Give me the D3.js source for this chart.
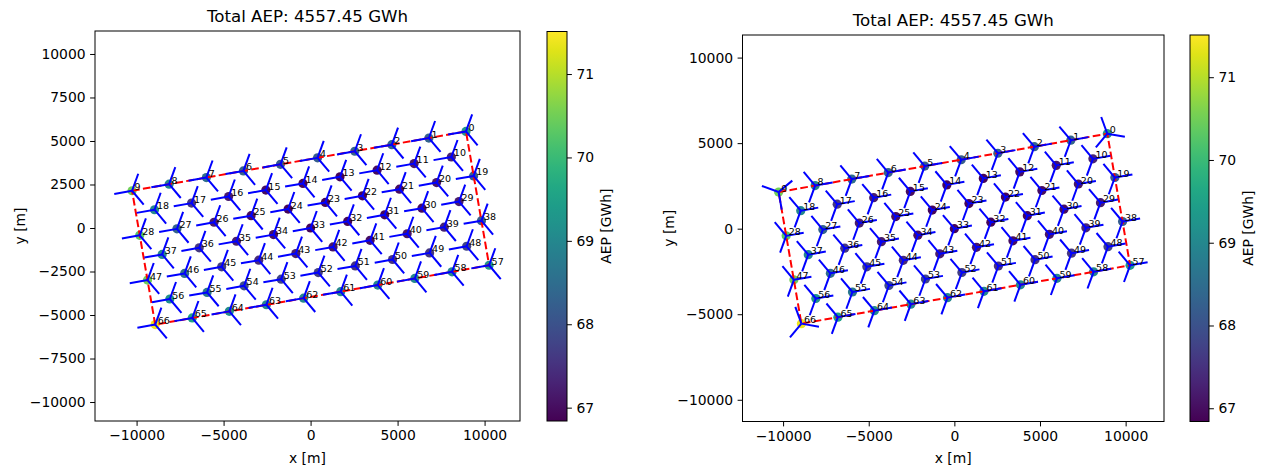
<!DOCTYPE html>
<html>
<head>
<meta charset="utf-8">
<script src="https://cdn.jsdelivr.net/npm/d3@7/dist/d3.min.js"></script>
<style>
  body { margin: 0; background: #fff; }
  text { font-family: "DejaVu Sans", sans-serif; fill: #000; }
</style>
</head>
<body>
<svg id="fig" width="1261" height="468"></svg>
<script>
// Turbine positions [m] and annual energy production [GWh]
const turbineX = [
  8930, 6800, 4670, 2540, 400, -1730, -3860, -5990, -8130, -10260,
  8090, 5950, 3820, 1690, -440, -2570, -4710, -6840, -8970,
  9370, 7240, 5110, 2980, 850, -1290, -3420, -5550, -7680, -9820,
  8530, 6400, 4260, 2130, 0, -2130, -4260, -6400, -8530,
  9820, 7680, 5550, 3420, 1290, -850, -2980, -5110, -7240, -9370,
  8970, 6840, 4710, 2570, 440, -1690, -3820, -5950, -8090,
  10260, 8130, 5990, 3860, 1730, -400, -2540, -4670, -6800, -8930
];
const turbineY = [
  5550, 5170, 4790, 4410, 4030, 3660, 3280, 2900, 2520, 2140,
  4080, 3700, 3320, 2940, 2560, 2180, 1810, 1430, 1050,
  2990, 2610, 2230, 1850, 1470, 1090, 710, 330, -50, -420,
  1520, 1140, 760, 380, 0, -380, -760, -1140, -1520,
  420, 50, -330, -710, -1090, -1470, -1850, -2230, -2610, -2990,
  -1050, -1430, -1810, -2180, -2560, -2940, -3320, -3700, -4080,
  -2140, -2520, -2900, -3280, -3660, -4030, -4410, -4790, -5170, -5550
];
const turbineAEP = [
  69.3, 68.3, 68.3, 68.3, 68.2, 68.2, 68.3, 68.5, 69.0, 70.5,
  67.3, 67.1, 67.0, 66.9, 66.9, 67.0, 67.2, 67.6, 69.0,
  68.2, 67.1, 67.0, 66.9, 66.9, 66.9, 67.0, 67.2, 68.3, 70.3,
  67.2, 67.0, 66.9, 66.9, 66.9, 67.0, 67.2, 67.6, 69.0,
  68.2, 67.3, 67.1, 67.0, 67.1, 67.2, 67.4, 67.7, 68.5, 70.5,
  67.8, 67.6, 67.5, 67.5, 67.7, 67.8, 67.9, 68.7, 69.2,
  69.3, 69.0, 69.0, 69.0, 69.0, 69.0, 69.0, 69.1, 69.5, 71.4
];

// Site boundary corners [m]
const boundaryX = [-10260, 8930, 10260, -8930];
const boundaryY = [2140, 5550, -2140, -5550];

// Rotor blade orientation (screen degrees of first blade)
const leftRotorAngle = [
  170, 170, 170, 170, 170, 170, 170, 170, 170, 170,
  170, 170, 170, 170, 170, 170, 170, 170, 170,
  170, 170, 170, 170, 170, 170, 170, 170, 170, 170,
  170, 170, 170, 170, 170, 170, 170, 170, 170,
  170, 170, 170, 170, 170, 170, 170, 170, 170, 170,
  170, 170, 170, 170, 170, 170, 170, 170, 170,
  170, 170, 170, 170, 170, 170, 170, 170, 170, 170
];
const rightRotorAngle = [
  -110, -130, -130, -130, -130, -130, -130, -130, -130, -160,
  -130, -130, -130, -130, -130, -130, -130, -130, -130,
  -130, -130, -130, -130, -130, -130, -130, -130, -130, -130,
  -130, -130, -130, -130, -130, -130, -130, -130, -130,
  -130, -130, -130, -130, -130, -130, -130, -130, -130, -130,
  -130, -130, -130, -130, -130, -130, -130, -130, -130,
  -130, -130, -130, -130, -130, -130, -130, -130, -130, -110
];

const titleText = "Total AEP: 4557.45 GWh";
const xTicks = [-10000, -5000, 0, 5000, 10000];
const leftYTicks = [-10000, -7500, -5000, -2500, 0, 2500, 5000, 7500, 10000];
const rightYTicks = [-10000, -5000, 0, 5000, 10000];
const cbTicks = [67, 68, 69, 70, 71];
const aepDomain = [66.84, 71.51];
const bladeLength = 1040;

const panels = [
  { frame: { l: 95, r: 520, t: 31, b: 421 }, xDom: [-12390, 12035], yDom: [-11090, 11320],
    yTicks: leftYTicks, rotor: leftRotorAngle, titleY: 22,
    cb: { l: 547, r: 567, t: 31.5, b: 421 }, ylabelX: 20, cblabelX: 606 },
  { frame: { l: 742.5, r: 1164, t: 35, b: 421.5 }, xDom: [-12370, 12240], yDom: [-11270, 11320],
    yTicks: rightYTicks, rotor: rightRotorAngle, titleY: 26,
    cb: { l: 1190, r: 1209, t: 35, b: 421.5 }, ylabelX: 669, cblabelX: 1248 }
];

const svg = d3.select("#fig");
const color = d3.scaleSequential(d3.interpolateViridis).domain(aepDomain);
const turbines = turbineX.map((x, i) => ({ id: i, x, y: turbineY[i], aep: turbineAEP[i] }));

// Shared viridis gradient for the colorbars
const grad = svg.append("defs").append("linearGradient")
  .attr("id", "viridis").attr("x1", 0).attr("x2", 0).attr("y1", 1).attr("y2", 0);
d3.range(0, 1.0001, 0.05).forEach(t => {
  grad.append("stop").attr("offset", t).attr("stop-color", d3.interpolateViridis(t));
});

panels.forEach((p, pi) => {
  const f = p.frame;
  const x = d3.scaleLinear().domain(p.xDom).range([f.l, f.r]);
  const y = d3.scaleLinear().domain(p.yDom).range([f.b, f.t]);
  const g = svg.append("g");
  const clipId = "clip" + pi;
  g.append("clipPath").attr("id", clipId).append("rect")
    .attr("x", f.l).attr("y", f.t).attr("width", f.r - f.l).attr("height", f.b - f.t);

  const plot = g.append("g").attr("clip-path", `url(#${clipId})`);

  // Markers coloured by AEP
  plot.selectAll("circle").data(turbines).join("circle")
    .attr("cx", d => x(d.x)).attr("cy", d => y(d.y)).attr("r", 4.6)
    .attr("fill", d => color(d.aep));

  // Boundary
  const bPts = boundaryX.map((bx, i) => [x(bx), y(boundaryY[i])]);
  plot.append("path")
    .attr("d", d3.line()(bPts.concat([bPts[0]])))
    .attr("fill", "none").attr("stroke", "#ff0000").attr("stroke-width", 2)
    .attr("stroke-dasharray", "7.7,3.3");

  // Three-bladed rotor symbols
  const Lpx = x(bladeLength) - x(0);
  const blades = [];
  turbines.forEach(d => {
    [0, 120, 240].forEach(off => {
      const a = (p.rotor[d.id] + off) * Math.PI / 180;
      blades.push({ x0: x(d.x), y0: y(d.y), x1: x(d.x) + Lpx * Math.cos(a), y1: y(d.y) + Lpx * Math.sin(a) });
    });
  });
  plot.selectAll("line.blade").data(blades).join("line").attr("class", "blade")
    .attr("x1", d => d.x0).attr("y1", d => d.y0).attr("x2", d => d.x1).attr("y2", d => d.y1)
    .attr("stroke", "#0000ff").attr("stroke-width", 2).attr("stroke-linecap", "butt");

  // Turbine numbers
  plot.selectAll("text.lab").data(turbines).join("text").attr("class", "lab")
    .attr("x", d => x(d.x) + 2.5).attr("y", d => y(d.y) - 0.5)
    .attr("font-size", 9.5).text(d => d.id);

  // Frame
  g.append("rect").attr("x", f.l).attr("y", f.t).attr("width", f.r - f.l).attr("height", f.b - f.t)
    .attr("fill", "none").attr("stroke", "#000").attr("stroke-width", 1);

  // Axes
  const xa = g.append("g").attr("transform", `translate(0,${f.b})`)
    .call(d3.axisBottom(x).tickValues(xTicks).tickSize(4.9).tickPadding(4.5).tickFormat(d3.format("d")));
  const ya = g.append("g").attr("transform", `translate(${f.l},0)`)
    .call(d3.axisLeft(y).tickValues(p.yTicks).tickSize(4.9).tickPadding(4.5).tickFormat(d3.format("d")));
  [xa, ya].forEach(a => {
    a.select(".domain").remove();
    a.selectAll("text").attr("font-size", 13.9).attr("font-family", "DejaVu Sans").attr("fill", "#000");
    a.selectAll("line").attr("stroke", "#000").attr("stroke-width", 1);
  });
  ya.selectAll("text").text(d => d3.format("d")(d).replace("-", "\u2212"));
  xa.selectAll("text").text(d => d3.format("d")(d).replace("-", "\u2212"));

  // Titles and axis labels
  g.append("text").attr("x", (f.l + f.r) / 2).attr("y", p.titleY).attr("text-anchor", "middle")
    .attr("font-size", 16.67).text(titleText);
  g.append("text").attr("x", (f.l + f.r) / 2).attr("y", 463).attr("text-anchor", "middle")
    .attr("font-size", 13.9).text("x [m]");
  g.append("text").attr("transform", `translate(${p.ylabelX},${(f.t + f.b) / 2}) rotate(-90)`)
    .attr("text-anchor", "middle").attr("dominant-baseline", "central")
    .attr("font-size", 13.9).text("y [m]");

  // Colorbar
  const c = p.cb;
  const cy = d3.scaleLinear().domain(aepDomain).range([c.b, c.t]);
  g.append("rect").attr("x", c.l).attr("y", c.t).attr("width", c.r - c.l).attr("height", c.b - c.t)
    .attr("fill", "url(#viridis)").attr("stroke", "#000").attr("stroke-width", 1);
  const ca = g.append("g").attr("transform", `translate(${c.r},0)`)
    .call(d3.axisRight(cy).tickValues(cbTicks).tickSize(4.9).tickPadding(4.5).tickFormat(d3.format("d")));
  ca.select(".domain").remove();
  ca.selectAll("text").attr("font-size", 13.9).attr("font-family", "DejaVu Sans").attr("fill", "#000");
  ca.selectAll("line").attr("stroke", "#000").attr("stroke-width", 1);
  g.append("text").attr("transform", `translate(${p.cblabelX},${(c.t + c.b) / 2}) rotate(-90)`)
    .attr("text-anchor", "middle").attr("dominant-baseline", "central")
    .attr("font-size", 13.9).text("AEP [GWh]");
});
</script>
</body>
</html>
